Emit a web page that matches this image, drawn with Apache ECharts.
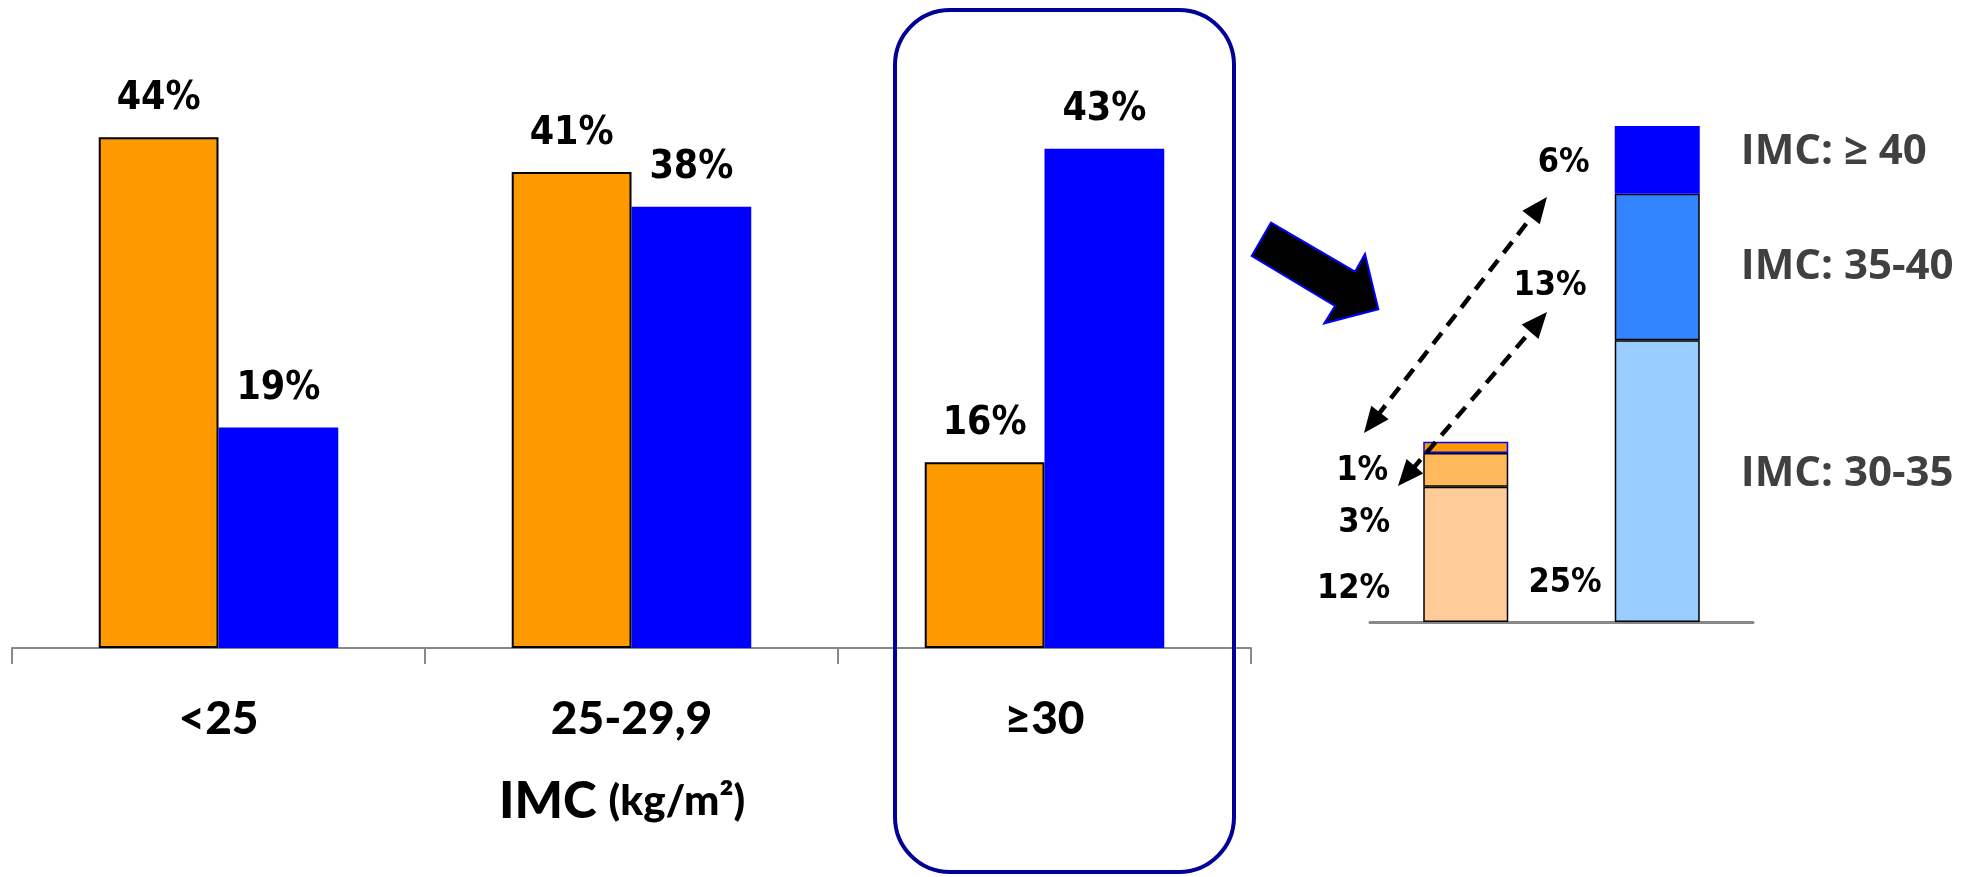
<!DOCTYPE html>
<html>
<head>
<meta charset="utf-8">
<script src="https://cdn.jsdelivr.net/npm/echarts@6/dist/echarts.min.js"></script>
<style>
html,body{margin:0;padding:0;background:#fff;}
#chart{width:1971px;height:877px;}
</style>
</head>
<body>
<div id="chart"></div>
<script>
// ---- data ----
const categories = ['<25', '25-29,9', '≥30'];
const seriesNames = ['Série 1', 'Série 2'];
const orangeValues = [44, 41, 16];
const blueValues = [19, 38, 43];

const detailCategories = ['Série 1 (≥30)', 'Série 2 (≥30)'];
const detailLevels = ['IMC: 30-35', 'IMC: 35-40', 'IMC: ≥ 40'];
const detailOrange = [12, 3, 1];
const detailBlue = [25, 13, 6];

// ---- styles ----
const valueFont = '"DejaVu Sans Condensed", "DejaVu Sans", sans-serif';
const orangeShades = ['#FFCC99', '#FFB95C', '#FF9900'];
const blueShades = ['#99CCFF', '#3385FF', '#0000FF'];
const orangeBorders = ['#000', '#000', '#0000FF'];
const blueBorders = ['#000', '#000', '#0000FF'];
const orangeLabelOffsets = [[33, 35], [33, 53], [35, 24]];
const blueLabelOffsets = [[13, 102], [28, 19], [25, 3]];
const nameLabelOffsets = [-7, 0, -8];

const chart = echarts.init(document.getElementById('chart'));

const series = [
  {
    name: seriesNames[0], type: 'bar', xAxisIndex: 0, yAxisIndex: 0,
    data: orangeValues,
    barGap: '0%', barCategoryGap: '42%',
    itemStyle: { color: '#FF9900', borderColor: '#000', borderWidth: 2 },
    label: { show: true, position: 'top', distance: 19, formatter: '{c}%',
      fontFamily: valueFont, fontWeight: 'bold', fontSize: 39, color: '#000' }
  },
  {
    name: seriesNames[1], type: 'bar', xAxisIndex: 0, yAxisIndex: 0,
    data: blueValues,
    barGap: '0%', barCategoryGap: '42%',
    itemStyle: { color: '#0000FF' },
    label: { show: true, position: 'top', distance: 19, formatter: '{c}%',
      fontFamily: valueFont, fontWeight: 'bold', fontSize: 39, color: '#000' }
  }
];

detailLevels.forEach((lvl, i) => {
  series.push({
    name: lvl, type: 'bar', xAxisIndex: 1, yAxisIndex: 1, stack: 'detail',
    barWidth: 85, barGap: '-100%',
    data: [
      { value: detailOrange[i],
        itemStyle: { color: orangeShades[i], borderColor: orangeBorders[i], borderWidth: 1.5 },
        label: { show: true, position: 'left', distance: orangeLabelOffsets[i][0], offset: [0, orangeLabelOffsets[i][1]] } },
      { value: detailBlue[i],
        itemStyle: { color: blueShades[i], borderColor: blueBorders[i], borderWidth: 1.5 },
        label: { show: true, position: 'left', distance: blueLabelOffsets[i][0], offset: [0, blueLabelOffsets[i][1]] } }
    ],
    label: { formatter: '{c}%', fontFamily: valueFont, fontWeight: 'bold', fontSize: 34, color: '#000' },
    z: 3
  });
});
detailLevels.forEach((lvl, i) => {
  series.push({
    name: lvl + ' ', type: 'bar', xAxisIndex: 1, yAxisIndex: 1, stack: 'names',
    barWidth: 85, barGap: '-100%',
    data: ['-', detailBlue[i]],
    itemStyle: { color: 'rgba(0,0,0,0)' },
    label: { show: true, position: 'right', distance: 41, offset: [0, nameLabelOffsets[i]],
      formatter: () => lvl,
      fontFamily: '"Open Sans", sans-serif', fontWeight: 'bold', fontSize: 42, color: '#404040' },
    silent: true, z: 1
  });
});

function doubleArrow(x1, y1, x2, y2) {
  const dx = x2 - x1, dy = y2 - y1, len = Math.hypot(dx, dy);
  const ux = dx / len, uy = dy / len, px = -uy, py = ux;
  const L = 26, W = 11;
  const head = (tx, ty, sx) => ({
    type: 'polygon',
    shape: { points: [[tx, ty],
      [tx - sx * ux * L + px * W, ty - sx * uy * L + py * W],
      [tx - sx * ux * L - px * W, ty - sx * uy * L - py * W]] },
    style: { fill: '#000' }, z: 20
  });
  return [
    { type: 'line', shape: { x1: x1 + ux * L * 0.8, y1: y1 + uy * L * 0.8, x2: x2 - ux * L * 0.8, y2: y2 - uy * L * 0.8 },
      style: { stroke: '#000', lineWidth: 4.5, lineDash: [14, 9] }, z: 20 },
    head(x1, y1, -1),
    head(x2, y2, 1)
  ];
}

chart.setOption({
  animation: false,
  backgroundColor: '#fff',
  title: {
    left: 494, top: 771,
    text: '{a|IMC}{s| }{b|(kg/m²)}',
    textStyle: { rich: {
      a: { fontFamily: 'Lato, sans-serif', fontWeight: 900, fontSize: 51, color: '#000' },
      s: { fontFamily: 'Lato, sans-serif', fontSize: 20, width: 12 },
      b: { fontFamily: 'Lato, sans-serif', fontWeight: 900, fontSize: 42, color: '#000' }
    } }
  },
  grid: [
    { left: 12, width: 1239, top: 67.5, height: 580.5 },
    { left: 1370, width: 383, top: 58.5, height: 563.5 }
  ],
  xAxis: [
    { type: 'category', gridIndex: 0, data: categories,
      axisLine: { lineStyle: { color: '#888', width: 2 } },
      axisTick: { show: true, length: 16, lineStyle: { color: '#888', width: 2 } },
      axisLabel: { margin: 48, fontFamily: 'Lato, sans-serif', fontWeight: 900, fontSize: 46, color: '#000' } },
    { type: 'category', gridIndex: 1, data: detailCategories,
      axisLine: { lineStyle: { color: '#888', width: 3 } },
      axisTick: { show: false }, axisLabel: { show: false } }
  ],
  yAxis: [
    { type: 'value', gridIndex: 0, min: 0, max: 50, show: false, splitLine: { show: false } },
    { type: 'value', gridIndex: 1, min: 0, max: 50, show: false, splitLine: { show: false } }
  ],
  series: series,
  graphic: [
    { type: 'rect', shape: { x: 895, y: 10, width: 339, height: 862, r: 55 },
      style: { fill: 'none', stroke: '#000099', lineWidth: 4 }, z: 30 },
    { type: 'polygon',
      shape: { points: [[1251.7, 256], [1271, 222.7], [1355, 271.7], [1365, 254], [1378.3, 309.3], [1324.3, 323.3], [1335, 306]] },
      style: { fill: '#000', stroke: '#0000FF', lineWidth: 2 }, z: 30 },
    ...doubleArrow(1364, 433, 1547, 197),
    ...doubleArrow(1398, 486, 1547, 312)
  ]
});
</script>
</body>
</html>
